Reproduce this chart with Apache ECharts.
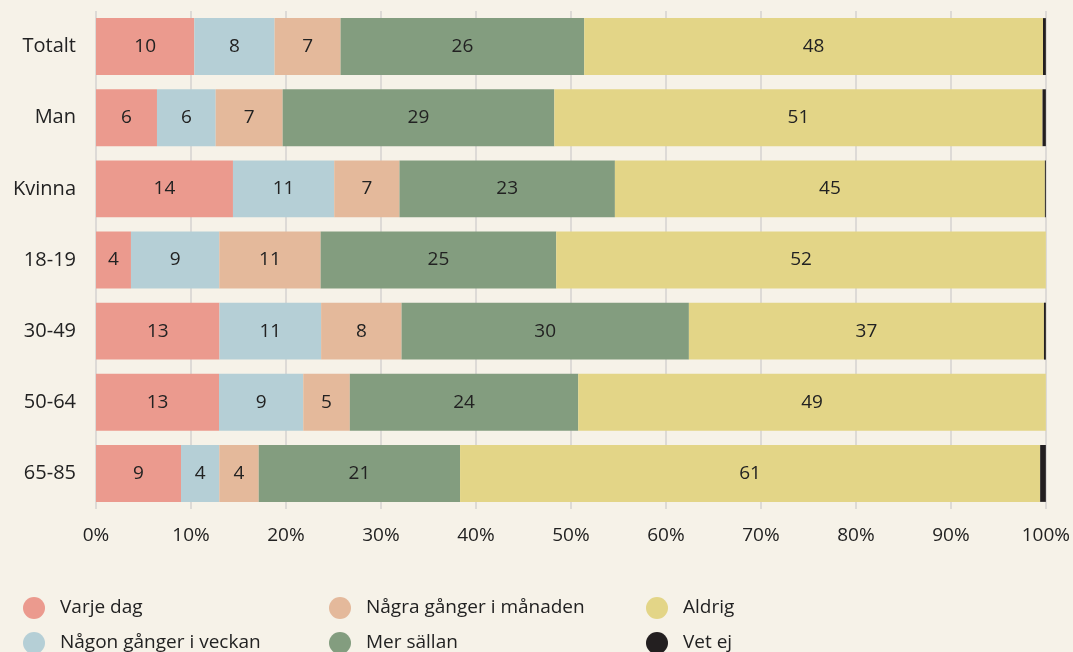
<!DOCTYPE html>
<html>
<head>
<meta charset="utf-8">
<script src="https://cdn.jsdelivr.net/npm/echarts@6/dist/echarts.min.js"></script>
<style>
  html, body { margin: 0; padding: 0; background: #f6f2e8; }
  #chart { width: 1073px; height: 652px; }
</style>
</head>
<body>
<div id="chart"></div>
<script>
const categories = ["Totalt", "Man", "Kvinna", "18-19", "30-49", "50-64", "65-85"];
const seriesNames = ["Varje dag", "Någon gånger i veckan", "Några gånger i månaden", "Mer sällan", "Aldrig", "Vet ej"];
const colors = ["#eb9a8e", "#b5cfd6", "#e4b99b", "#839d7f", "#e3d587", "#231f20"];

const varjeDag = [10.35, 6.42, 14.42, 3.68, 13.0, 12.95, 8.95];
const veckan = [8.45, 6.18, 10.66, 9.3, 10.7, 8.87, 4.03];
const manaden = [6.95, 7.05, 6.87, 10.67, 8.47, 4.9, 4.15];
const merSallan = [25.65, 28.6, 22.68, 24.8, 30.25, 24.05, 21.2];
const aldrig = [48.3, 51.4, 45.27, 51.55, 37.38, 49.23, 61.07];
const vetEj = [0.3, 0.35, 0.1, 0, 0.2, 0, 0.6];

const values = [varjeDag, veckan, manaden, merSallan, aldrig, vetEj];
const xTicks = [0, 10, 20, 30, 40, 50, 60, 70, 80, 90, 100];

// legend grid: columns left, rows top
const legendCols = [23, 329, 646];
const legendRows = [597, 632];

const fontFamily = "'Open Sans', Lato, sans-serif";
const chart = echarts.init(document.getElementById("chart"));

const series = seriesNames.map((name, i) => ({
  name: name,
  type: "bar",
  stack: "total",
  barCategoryGap: "20%",
  itemStyle: { color: colors[i] },
  label: {
    show: i < 5,
    position: "inside",
    color: "#222",
    fontSize: 19,
    fontFamily: fontFamily,
    formatter: p => Math.round(p.value)
  },
  data: values[i].slice().reverse()
}));

const legends = seriesNames.map((name, i) => ({
  left: legendCols[Math.floor(i / 2)],
  top: legendRows[i % 2],
  itemWidth: 22,
  itemHeight: 22,
  icon: "circle",
  padding: 0,
  textStyle: { color: "#222", fontSize: 19, fontFamily: fontFamily, padding: [0, 0, 0, 10] },
  data: [name]
}));

chart.setOption({
  backgroundColor: "#f6f2e8",
  animation: false,
  grid: { left: 96, right: 27, top: 11, height: 498 },
  legend: legends,
  xAxis: {
    type: "value",
    min: 0,
    max: 100,
    interval: 10,
    axisLine: { show: false },
    axisTick: { show: false },
    splitLine: { show: true, lineStyle: { color: "#dddad6", width: 2 } },
    axisLabel: {
      color: "#222",
      fontSize: 19,
      fontFamily: fontFamily,
      margin: 17,
      formatter: v => (xTicks.includes(v) ? v + "%" : "")
    }
  },
  yAxis: {
    type: "category",
    data: categories.slice().reverse(),
    axisLine: { show: false },
    axisTick: { show: false },
    axisLabel: { color: "#222", fontSize: 20, fontFamily: fontFamily, margin: 20 }
  },
  series: series
});
</script>
</body>
</html>
